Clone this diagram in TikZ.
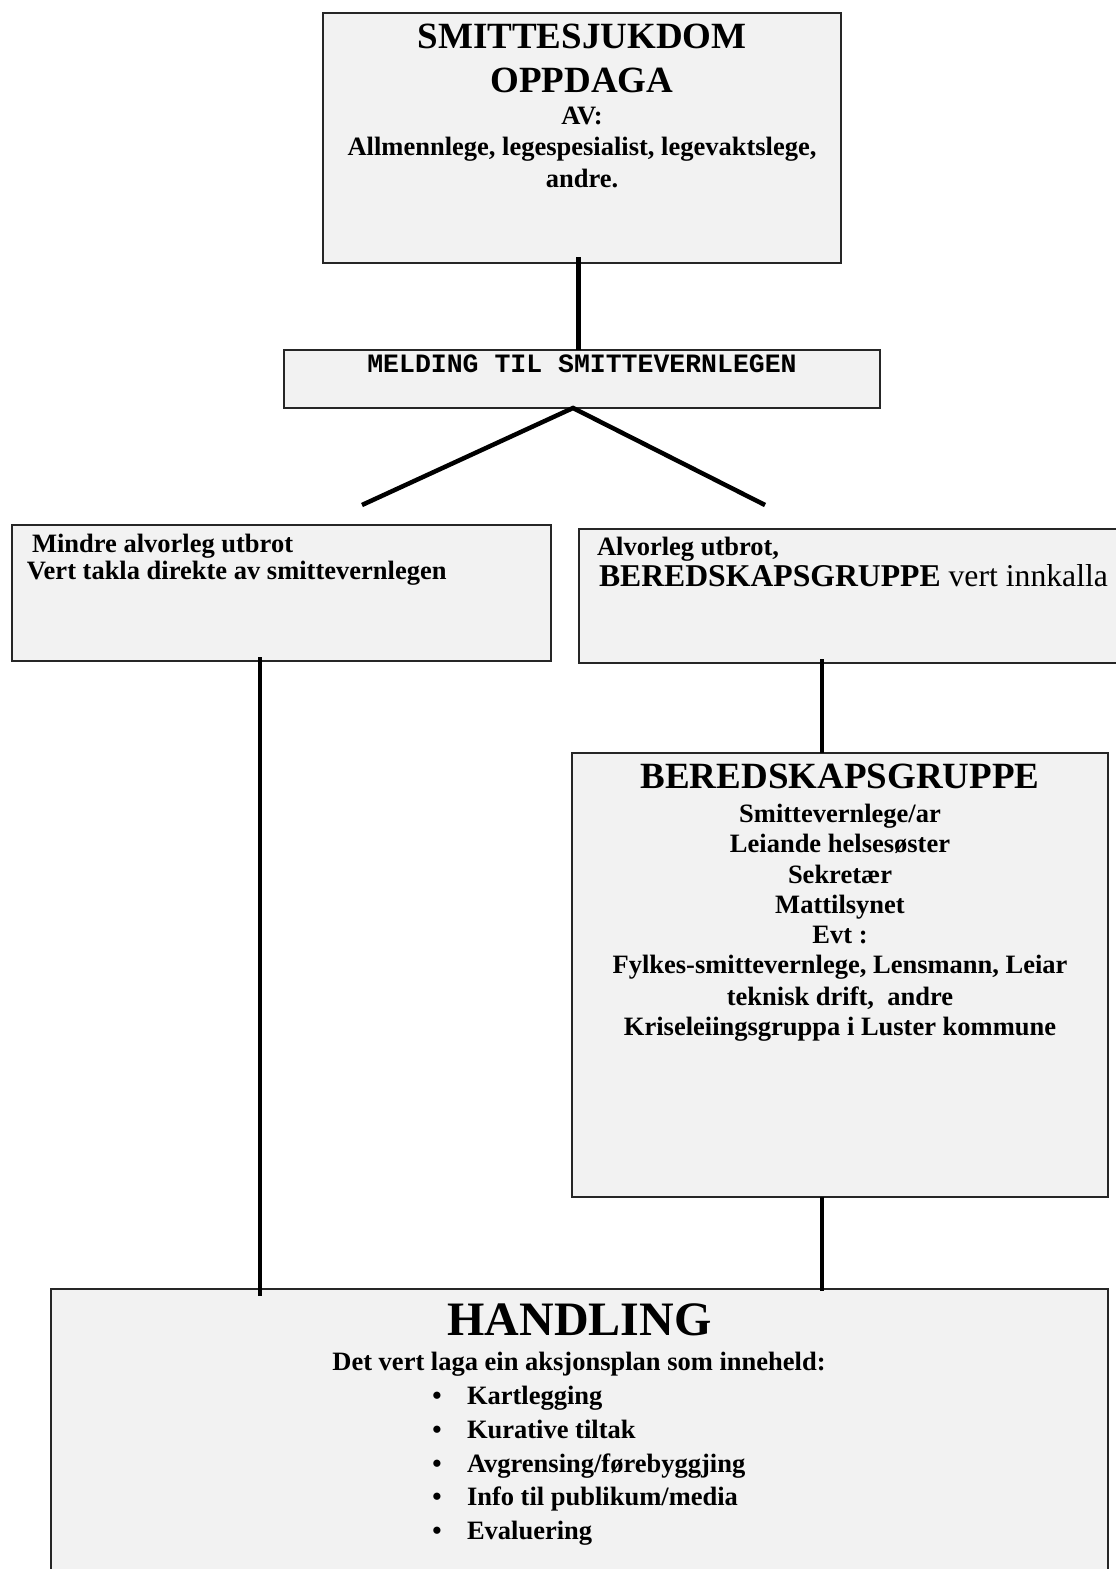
\documentclass[tikz,border=0pt]{standalone}
\usepackage{fontspec}
\setmainfont{Liberation Serif}
\newfontfamily\monofont{Liberation Mono}
\usetikzlibrary{calc}
\definecolor{boxgray}{HTML}{F2F2F2}
\begin{document}
\begin{tikzpicture}[x=1pt,y=-1pt,
  box/.style={draw=black!85, line width=1.4pt, fill=boxgray, inner sep=0pt, outer sep=0pt, anchor=north west},
  conn/.style={draw=black, line width=4.5pt},
  txt/.style={inner sep=0pt, outer sep=0pt, anchor=base},
  big/.style={font=\fontsize{37}{42}\selectfont\bfseries},
  body/.style={font=\fontsize{26.5}{30}\selectfont\bfseries},
  lefttxt/.style={txt, anchor=base west}]
\path[use as bounding box] (0,0) rectangle (1116,1569);
\clip (0,0) rectangle (1116,1569);

% boxes
\node[box, minimum width=518pt, minimum height=250pt] (top) at (323,13) {};
\node[box, minimum width=596pt, minimum height=58pt] (meld) at (284,350) {};
\node[box, minimum width=539pt, minimum height=136pt] (left) at (12,525) {};
\node[box, minimum width=546pt, minimum height=134pt] (right) at (579,529) {};
\node[box, minimum width=536pt, minimum height=444pt] (bg) at (572,753) {};
\node[box, minimum width=1057pt, minimum height=320pt] (hand) at (51,1289) {};

% top box text
\node[txt, big] (t1) at (582,48) {SMITTESJUKDOM};
\node[txt, big] (t2) at (582,92) {OPPDAGA};
\node[txt, body] (t3) at (582,124) {AV:};
\node[txt, body] (t4) at (582,155) {Allmennlege, legespesialist, legevaktslege,};
\node[txt, body] (t5) at (582,187) {andre.};

% melding
\node[txt, font=\monofont\fontsize{26.5}{30}\selectfont\bfseries] (mtxt) at (582,372) {MELDING TIL SMITTEVERNLEGEN};

% left box
\node[lefttxt, body] (l1) at (32,552) {Mindre alvorleg utbrot};
\node[lefttxt, body] (l2) at (27,579) {Vert takla direkte av smittevernlegen};

% right box
\node[lefttxt, body] (r1) at (597,555) {Alvorleg utbrot,};
\node[lefttxt, font=\fontsize{31.7}{36}\selectfont] (r2) at (599,586) {\textbf{BEREDSKAPSGRUPPE} vert innkalla};

% beredskapsgruppe box
\node[txt, big] (b0) at (840,788) {BEREDSKAPSGRUPPE};
\node[txt, body] (b1) at (840,822) {Smittevernlege/ar};
\node[txt, body] (b2) at (840,852) {Leiande helsesøster};
\node[txt, body] (b3) at (840,883) {Sekretær};
\node[txt, body] (b4) at (840,913) {Mattilsynet};
\node[txt, body] (b5) at (840,943) {Evt :};
\node[txt, body] (b6) at (840,973) {Fylkes-smittevernlege, Lensmann, Leiar};
\node[txt, body] (b7) at (840,1005) {teknisk drift,\ \ andre};
\node[txt, body] (b8) at (840,1035) {Kriseleiingsgruppa i Luster kommune};

% handling box
\node[txt, font=\fontsize{48}{54}\selectfont\bfseries] (h0) at (579.5,1335) {HANDLING};
\node[txt, body] (h1) at (579,1370) {Det vert laga ein aksjonsplan som inneheld:};
\foreach \yy/\tt [count=\i] in {1404/Kartlegging, 1438/Kurative tiltak, 1472/Avgrensing\slash førebyggjing, 1505/Info til publikum\slash media, 1539/Evaluering}{
  \node[txt, body] (bul\i) at (437,\yy) {•};
  \node[lefttxt, body] (item\i) at (467,\yy) {\tt};
}

% connectors
\coordinate (mx) at (578.5,0);
\coordinate (ax) at (573,0);
\coordinate (lx) at (260,0);
\coordinate (rx) at (822,0);
\coordinate (dl) at (362,505);
\coordinate (dr) at (765,505);
\draw[conn] ($(mx |- top.south)+(0,-6)$) -- (mx |- meld.north);
\draw[conn] (dl) -- (ax |- meld.south) -- (dr);
\draw[conn] ($(lx |- left.south)+(0,-4)$) -- ($(lx |- hand.north)+(0,7)$);
\draw[conn] ($(rx |- right.south)+(0,-4)$) -- (rx |- bg.north);
\draw[conn] (rx |- bg.south) -- ($(rx |- hand.north)+(0,2)$);
\end{tikzpicture}
\end{document}
